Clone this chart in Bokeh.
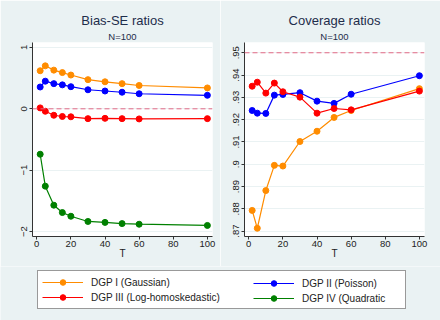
from bokeh.plotting import figure
from bokeh.models import Title, Span, FixedTicker, Legend, LegendItem, ColumnDataSource, Range1d
from bokeh.layouts import column, row
from bokeh.embed import file_html
from bokeh.resources import INLINE

T = [2, 5, 10, 15, 20, 30, 40, 50, 60, 100]

bias_gauss = [0.62, 0.70, 0.63, 0.59, 0.55, 0.475, 0.44, 0.41, 0.38, 0.34]
bias_poisson = [0.355, 0.45, 0.41, 0.39, 0.36, 0.31, 0.29, 0.27, 0.245, 0.22]
bias_loghomo = [0.015, -0.04, -0.105, -0.125, -0.13, -0.16, -0.155, -0.16, -0.165, -0.16]
bias_quad = [-0.74, -1.26, -1.57, -1.69, -1.75, -1.835, -1.85, -1.87, -1.88, -1.90]

cov_gauss = [0.8793, 0.8713, 0.8882, 0.8995, 0.8992, 0.9102, 0.9148, 0.9210, 0.9241, 0.9339]
cov_poisson = [0.9241, 0.9229, 0.9228, 0.9310, 0.9313, 0.9321, 0.9283, 0.9273, 0.9314, 0.9397]
cov_loghomo = [0.9350, 0.9368, 0.9319, 0.9364, 0.9325, 0.9301, 0.9229, 0.9250, 0.9244, 0.9328]

series_names = ["DGP I (Gaussian)", "DGP II (Poisson)", "DGP III (Log-homoskedastic)", "DGP IV (Quadratic"]
series_colors = ["#FF8C00", "#0000FF", "#FF0000", "#008000"]

bias_ticks = [-2, -1, 0, 1]
cov_ticks = [0.87, 0.88, 0.89, 0.90, 0.91, 0.92, 0.93, 0.94, 0.95]
cov_tick_labels = [".87", ".88", ".89", ".9", ".91", ".92", ".93", ".94", ".95"]
x_ticks = [0, 20, 40, 60, 80, 100]

BG = "#EAF2F3"
FONT = "Liberation Sans"
TITLE_COLOR = "#1E2D4B"
AXIS_COLOR = "#333333"
REF_COLOR = "#E36A86"


def make_panel(title, subtitle, y_range, yticks, ylabels, series, ref, bl, br):
    p = figure(width=220, height=266, x_range=(-2.5, 103), y_range=y_range,
               output_backend="svg", toolbar_location=None,
               min_border_left=bl, min_border_right=br, min_border_top=42, min_border_bottom=30,
               background_fill_color="white", border_fill_color=BG, outline_line_color=None)
    p.xgrid.grid_line_color = None
    p.ygrid.grid_line_color = BG
    p.ygrid.grid_line_width = 1
    p.xaxis.ticker = FixedTicker(ticks=x_ticks)
    p.yaxis.ticker = FixedTicker(ticks=yticks)
    if ylabels is not None:
        p.yaxis.major_label_overrides = {t: l for t, l in zip(yticks, ylabels)}
    p.yaxis.major_label_orientation = "vertical"
    for ax in (p.xaxis[0], p.yaxis[0]):
        ax.axis_line_color = AXIS_COLOR
        ax.major_tick_line_color = AXIS_COLOR
        ax.minor_tick_line_color = None
        ax.major_tick_out = 3
        ax.major_tick_in = 0
        ax.major_label_text_font = FONT
        ax.major_label_text_font_size = "9.5px"
        ax.major_label_text_color = "#222222"
        ax.major_label_standoff = 2
    p.xaxis.axis_label = "T"
    p.xaxis.axis_label_text_font = FONT
    p.xaxis.axis_label_text_font_style = "normal"
    p.xaxis.axis_label_text_font_size = "10px"
    p.xaxis.axis_label_text_color = "#222222"
    p.xaxis.axis_label_standoff = -2
    p.xaxis.major_label_standoff = 1

    p.add_layout(Span(location=ref, dimension="width", line_color=REF_COLOR,
                      line_dash="5 3", line_width=1))
    for vals, color in series:
        p.line(T, vals, line_color=color, line_width=1.2)
        p.scatter(T, vals, marker="circle", size=6, fill_color=color, line_color=color)

    p.add_layout(Title(text=subtitle, align="center", text_font=FONT, text_font_size="9.5px",
                       text_font_style="normal", text_color=TITLE_COLOR, standoff=2), "above")
    p.add_layout(Title(text=title, align="center", text_font=FONT, text_font_size="13px",
                       text_font_style="normal", text_color=TITLE_COLOR, standoff=0), "above")
    return p


p1 = make_panel("Bias-SE ratios", "N=100", (-2.08, 1.08), bias_ticks, None,
                [(bias_gauss, series_colors[0]), (bias_poisson, series_colors[1]),
                 (bias_loghomo, series_colors[2]), (bias_quad, series_colors[3])], 0, 32, 8)
p2 = make_panel("Coverage ratios", "N=100", (0.8676, 0.9546), cov_ticks, cov_tick_labels,
                [(cov_gauss, series_colors[0]), (cov_poisson, series_colors[1]),
                 (cov_loghomo, series_colors[2])], 0.95, 24, 16)

p3 = figure(width=440, height=54, output_backend="svg", toolbar_location=None,
            x_range=Range1d(0, 1), y_range=Range1d(0, 1),
            x_axis_type=None, y_axis_type=None, min_border=0,
            background_fill_color=BG, border_fill_color=BG, outline_line_color=None)
p3.xgrid.grid_line_color = None
p3.ygrid.grid_line_color = None

items = []
for name, color in zip(series_names, series_colors):
    src = ColumnDataSource(data=dict(x=[5], y=[5]))  # off-view placeholder for legend swatch
    r1 = p3.line("x", "y", source=src, line_color=color, line_width=1.2)
    r2 = p3.scatter("x", "y", source=src, marker="circle", size=6, fill_color=color, line_color=color)
    items.append(LegendItem(label=name, renderers=[r1, r2]))

common = dict(glyph_width=41, glyph_height=14, label_height=14, label_standoff=8,
              label_text_font=FONT, label_text_font_size="10px", label_text_color="#222222",
              padding=4, spacing=1, margin=0)
legA = Legend(items=[items[0], items[2]], location=(37, 11), label_width=310,
              border_line_color="#333333", border_line_width=1,
              background_fill_color="white", background_fill_alpha=1, **common)
legB = Legend(items=[items[1], items[3]], location=(253, 15), label_width=20,
              border_line_color=None, background_fill_alpha=0, **common)
p3.add_layout(legA, "center")
p3.add_layout(legB, "center")

layout = column(row(p1, p2, spacing=0), p3, spacing=0)

open("out.html", "w").write(file_html(layout, INLINE))
